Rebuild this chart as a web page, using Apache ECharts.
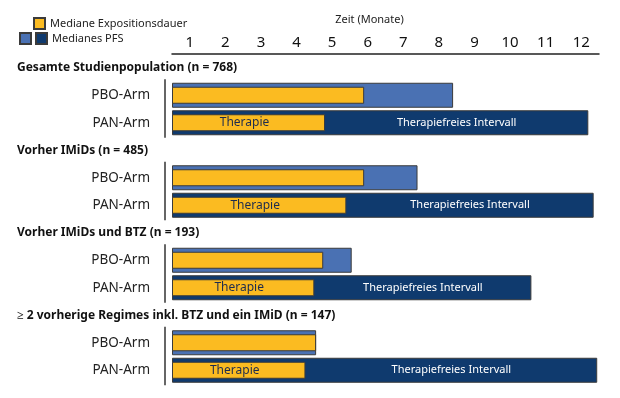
<!DOCTYPE html>
<html lang="de">
  <head>
    <meta charset="utf-8" />
    <title>Expositionsdauer und PFS</title>
    <style>
      html, body { margin: 0; padding: 0; background: #fff; }
      #chart-container { width: 620px; height: 398px; }
    </style>
  </head>
  <body>
    <div id="chart-container"></div>
    <script src="https://cdn.jsdelivr.net/npm/echarts@6/dist/echarts.min.js"></script>
    <script>
      // Werte (Monate)
      const groups = [
        "Gesamte Studienpopulation (n = 768)",
        "Vorher IMiDs (n = 485)",
        "Vorher IMiDs und BTZ (n = 193)",
        "\u2265 2 vorherige Regimes inkl. BTZ und ein IMiD (n = 147)"
      ];
      const arms = ["PBO-Arm", "PAN-Arm"];
      const months = ["1", "2", "3", "4", "5", "6", "7", "8", "9", "10", "11", "12"];
      const pfsPBO = [7.9, 6.9, 5.05, 4.05];
      const pfsPAN = [11.7, 11.85, 10.1, 11.95];
      const expPBO = [5.4, 5.4, 4.25, 4.05];
      const expPAN = [4.3, 4.9, 4.0, 3.75];

      const FONT = "Noto Sans";
      const lightBlue = "#4a71b3";
      const darkBlue = "#0f3a6e";
      const yellow = "#fbbb21";
      const edge = "#3b3b3b";

      // Zeilen: Überschrift, PBO, PAN je Gruppe
      const rows = [];
      const rowText = [];
      const isHead = [];
      groups.forEach(function (g, i) {
        rows.push("h" + i); rowText.push(g); isHead.push(true);
        rows.push("p" + i); rowText.push(arms[0]); isHead.push(false);
        rows.push("a" + i); rowText.push(arms[1]); isHead.push(false);
      });

      function perRow(pbo, pan) {
        const out = [];
        groups.forEach(function (g, i) {
          out.push(null);
          out.push(pbo == null ? null : pbo[i]);
          out.push(pan == null ? null : pan[i]);
        });
        return out;
      }

      var dom = document.getElementById("chart-container");
      var myChart = echarts.init(dom, null, { renderer: "canvas" });

      var option = {
        animation: false,
        textStyle: { fontFamily: FONT },
        legend: [
          {
            data: ["Mediane Expositionsdauer"],
            left: 33, top: 17, padding: 0,
            icon: "rect",
            itemWidth: 11, itemHeight: 11,
            textStyle: { fontFamily: FONT, fontSize: 11, color: "#222" }
          },
          {
            data: ["PFS PBO", "PFS PAN"],
            left: 19, top: 32, padding: 0,
            icon: "rect",
            itemWidth: 11, itemHeight: 11, itemGap: 3,
            formatter: function (name) { return name === "PFS PAN" ? "Medianes PFS" : ""; },
            textStyle: { fontFamily: FONT, fontSize: 11, color: "#222" }
          }
        ],
        grid: { left: 172, right: 21, top: 54, bottom: 14, containLabel: false },
        xAxis: [
          { type: "value", min: 0, max: 12, show: false },
          {
            type: "category",
            data: months,
            position: "top",
            boundaryGap: true,
            name: "Zeit (Monate)",
            nameLocation: "middle",
            nameGap: 29,
            nameTextStyle: { fontFamily: FONT, fontSize: 11, color: "#222", padding: [0, 32, 0, 0] },
            axisLine: { lineStyle: { color: "#222", width: 1.5 } },
            axisTick: { show: false },
            axisLabel: { fontFamily: FONT, fontSize: 15, color: "#111", margin: 4 },
            splitLine: { show: false }
          }
        ],
        yAxis: [
          {
            type: "category", data: rows, inverse: true,
            axisLine: { show: false }, axisTick: { show: false },
            axisLabel: {
              margin: 22, fontSize: 13.5, color: "#222", fontFamily: FONT,
              formatter: function (v, i) { return isHead[i] ? "" : rowText[i]; }
            }
          },
          {
            type: "category", data: rows, inverse: true, position: "left",
            axisLine: { show: false }, axisTick: { show: false },
            axisLabel: {
              margin: 155, align: "left", fontSize: 12, fontWeight: "bold", color: "#111", fontFamily: FONT,
              formatter: function (v, i) { return isHead[i] ? rowText[i] : ""; }
            }
          },
          { type: "category", data: rows, inverse: true, show: false }
        ],
        series: [
          {
            name: "PFS PBO", type: "bar", xAxisIndex: 0, yAxisIndex: 0,
            barWidth: 25, barGap: "-100%",
            itemStyle: { color: lightBlue, borderColor: edge, borderWidth: 1 },
            data: perRow(pfsPBO, null)
          },
          {
            name: "PFS PAN", type: "bar", xAxisIndex: 0, yAxisIndex: 0,
            barWidth: 25, barGap: "-100%",
            itemStyle: { color: darkBlue, borderColor: edge, borderWidth: 1 },
            data: perRow(null, pfsPAN)
          },
          {
            name: "Mediane Expositionsdauer", type: "bar", xAxisIndex: 0, yAxisIndex: 1,
            barWidth: 17,
            itemStyle: { color: yellow, borderColor: edge, borderWidth: 1 },
            label: {
              show: true, position: "inside", fontSize: 12, color: "#1c2b4f", fontFamily: FONT,
              offset: [-4, 0],
              formatter: function (p) { return p.dataIndex % 3 === 2 ? "Therapie" : ""; }
            },
            data: perRow(expPBO, expPAN)
          },
          // unsichtbarer Stapel nur für die Beschriftung des therapiefreien Intervalls
          {
            name: "base", type: "bar", stack: "frei", xAxisIndex: 0, yAxisIndex: 2,
            barWidth: 17, silent: true,
            itemStyle: { color: "transparent" },
            data: perRow(null, expPAN)
          },
          {
            name: "frei", type: "bar", stack: "frei", xAxisIndex: 0, yAxisIndex: 2,
            barWidth: 17, silent: true,
            itemStyle: { color: "transparent" },
            label: {
              show: true, position: "inside", fontSize: 11, color: "#fff", fontFamily: FONT,
              formatter: "Therapiefreies Intervall"
            },
            data: perRow(null, pfsPAN.map(function (v, i) { return v - expPAN[i]; }))
          },
          // senkrechte Linie je Gruppe links der Balken
          {
            name: "linie", type: "custom", xAxisIndex: 0, yAxisIndex: 0, silent: true,
            data: groups.map(function (g, i) { return [0, 3 * i + 1, 3 * i + 2]; }),
            renderItem: function (params, api) {
              var top = api.coord([0, api.value(1)]);
              var bot = api.coord([0, api.value(2)]);
              var x = top[0] - 7;
              return {
                type: "line",
                shape: { x1: x, y1: top[1] - 16, x2: x, y2: bot[1] + 15 },
                style: { stroke: "#333", lineWidth: 1.5 }
              };
            }
          }
        ]
      };

      myChart.setOption(option);
      window.addEventListener("resize", myChart.resize);
    </script>
  </body>
</html>
